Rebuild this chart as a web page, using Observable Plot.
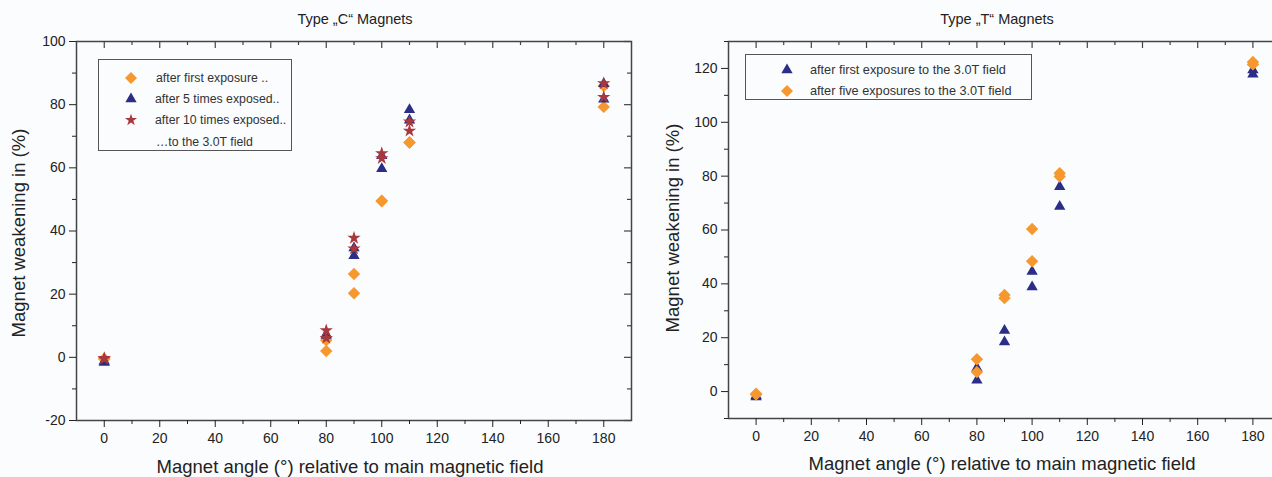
<!DOCTYPE html>
<html>
<head>
<meta charset="utf-8">
<script src="https://cdn.jsdelivr.net/npm/d3@7"></script>
<script src="https://cdn.jsdelivr.net/npm/@observablehq/plot@0.6"></script>
<style>
  html, body { margin:0; padding:0; background:#fafcfe; overflow:hidden; }
  #wrap { position:relative; width:1272px; height:477px; overflow:hidden; background:#fafcfe; font-family:"Liberation Sans", Arial, sans-serif; color:#222; }
  .abs { position:absolute; white-space:nowrap; line-height:1; }
  .title { font-size:14.5px; transform:translateX(-50%); }
  .xlab { font-size:18.5px; transform:translateX(-50%); }
  .ylab { font-size:18.5px; transform:translate(-50%,-50%) rotate(-90deg); }
  .legend { position:absolute; border:1px solid #555; background:#fafcfe; box-sizing:border-box; }
  .lrow { position:absolute; font-size:12.3px; color:#333; white-space:nowrap; line-height:1; }
  .lrow.big { font-size:12.7px; }
  .lrow svg { position:absolute; overflow:visible; }
</style>
</head>
<body>
<div id="wrap"></div>
<script>
// ---- data ----
const angles = [0, 0, 80, 80, 90, 90, 100, 100, 110, 110, 180, 180];
// Type "C" magnets
const cFirst = [-0.5, -0.5, 5.4, 2.0, 26.4, 20.3, 49.6, 49.4, 68.0, 68.0, 85.9, 79.3];
const cFive  = [-1.2, -1.6, 6.9, 7.3, 34.6, 32.2, 63.8, 59.7, 78.4, 75.1, 86.6, 81.7];
const cTen   = [-0.5, -0.3, 8.5, 6.1, 37.8, 34.4, 64.6, 63.0, 74.6, 71.7, 86.7, 82.4];
// Type "T" magnets
const tFirst = [-2.0, -1.5, 8.8, 4.2, 22.7, 18.4, 44.6, 38.8, 76.1, 68.7, 119.4, 117.8];
const tFive  = [-1.1, -0.8, 12.0, 7.3, 35.9, 34.7, 60.4, 48.4, 81.1, 79.9, 122.4, 121.5];

const xMajor = [0, 20, 40, 60, 80, 100, 120, 140, 160, 180];
const xMinor = [10, 30, 50, 70, 90, 110, 130, 150, 170];
const cYMajor = [-20, 0, 20, 40, 60, 80, 100];
const cYMinor = [-10, 10, 30, 50, 70, 90];
const tYMajor = [0, 20, 40, 60, 80, 100, 120];
const tYMinor = [-10, 10, 30, 50, 70, 90, 110, 130];

const titleC = "Type \u201eC\u201c Magnets";
const titleT = "Type \u201eT\u201c Magnets";
const xLabel = "Magnet angle (\u00b0) relative to main magnetic field";
const yLabel = "Magnet weakening in (%)";
const legendC = ["after first exposure ..", "after 5 times exposed..", "after 10 times exposed..", "\u2026to the 3.0T field"];
const legendT = ["after first exposure to the 3.0T field", "after five exposures to the 3.0T field"];

const ORANGE = "#f7982f", NAVY = "#2b2d86", RED = "#a8383c";
const FONT = "Liberation Sans, Arial, sans-serif";

const rows = (ys) => angles.map((a, i) => ({x: a, y: ys[i]}));

function chart({width, height, mL, mR, mT, mB, yDomain, yMajor, yMinor, series, rightTicks}) {
  const pw = width - mL - mR, ph = height - mT - mB;
  const marks = [
    Plot.frame({stroke: "#444", strokeWidth: 1.5}),
    Plot.axisX({ticks: xMajor, tickSize: 7, tickPadding: 6, fontSize: 14, label: null, tickFormat: d => String(d)}),
    Plot.axisX({ticks: xMinor, tickSize: 4, text: null, label: null}),
    Plot.axisY({ticks: yMajor, tickSize: 7, tickPadding: 4, fontSize: 14, label: null, tickFormat: d => String(d)}),
    Plot.axisY({ticks: yMinor, tickSize: 4, text: null, label: null}),
    Plot.tickX(xMajor, {x: d => d, insetBottom: ph - 7, stroke: "#444", strokeWidth: 1.2}),
    Plot.tickX(xMinor, {x: d => d, insetBottom: ph - 4, stroke: "#444", strokeWidth: 1.2}),
  ];
  if (rightTicks) {
    marks.push(Plot.tickY(yMajor, {y: d => d, insetLeft: pw - 7, stroke: "#444", strokeWidth: 1.2}));
    marks.push(Plot.tickY(yMinor, {y: d => d, insetLeft: pw - 4, stroke: "#444", strokeWidth: 1.2}));
  }
  for (const s of series) {
    marks.push(Plot.dot(rows(s.values), {x: "x", y: "y", symbol: s.symbol, fill: s.color, stroke: "none", r: s.r}));
  }
  return Plot.plot({
    width, height, marginLeft: mL, marginRight: mR, marginTop: mT, marginBottom: mB,
    x: {domain: [-10, 190]},
    y: {domain: yDomain},
    style: {background: "transparent", fontFamily: FONT, fontSize: "14px", color: "#222", overflow: "visible"},
    marks
  });
}

const wrap = document.getElementById("wrap");

const left = chart({
  width: 660, height: 477, mL: 76, mR: 29, mT: 41, mB: 57,
  yDomain: [-20, 100], yMajor: cYMajor, yMinor: cYMinor, rightTicks: true,
  series: [
    {values: cFirst, symbol: "diamond2", color: ORANGE, r: 5.6},
    {values: cFive, symbol: "triangle", color: NAVY, r: 4.2},
    {values: cTen, symbol: "star", color: RED, r: 4.2}
  ]
});
left.style.position = "absolute"; left.style.left = "0px"; left.style.top = "0px";
wrap.appendChild(left);

const right = chart({
  width: 640, height: 477, mL: 68, mR: 20, mT: 41, mB: 59,
  yDomain: [-10, 130], yMajor: tYMajor, yMinor: tYMinor, rightTicks: false,
  series: [
    {values: tFirst, symbol: "triangle", color: NAVY, r: 4.2},
    {values: tFive, symbol: "diamond2", color: ORANGE, r: 5.6}
  ]
});
right.style.position = "absolute"; right.style.left = "660px"; right.style.top = "0px";
wrap.appendChild(right);

function addText(cls, text, x, y) {
  const d = document.createElement("div");
  d.className = "abs " + cls;
  d.textContent = text;
  d.style.left = x + "px"; d.style.top = y + "px";
  wrap.appendChild(d);
  return d;
}
addText("title", titleC, 355, 12);
addText("title", titleT, 997, 12);
addText("xlab", xLabel, 350, 458);
addText("xlab", xLabel, 1002, 455);
addText("ylab", yLabel, 19, 233);
addText("ylab", yLabel, 673, 228);

function symbolPath(name, r) {
  const map = {diamond2: d3.symbolDiamond2, triangle: d3.symbolTriangle, star: d3.symbolStar};
  return d3.symbol(map[name], Math.PI * r * r)();
}

function legend(x, y, w, h, entries, cls) {
  const box = document.createElement("div");
  box.className = "legend";
  box.style.left = x + "px"; box.style.top = y + "px";
  box.style.width = w + "px"; box.style.height = h + "px";
  wrap.appendChild(box);
  for (const e of entries) {
    const row = document.createElement("div");
    row.className = "lrow" + (cls ? " " + cls : "");
    row.style.left = (e.tx - x) + "px";
    row.style.top = (e.ty - y - 7) + "px";
    row.textContent = e.text;
    box.appendChild(row);
    if (e.symbol) {
      const svg = d3.create("svg").attr("width", 1).attr("height", 1)
        .style("left", (e.sx - e.tx) + "px").style("top", "6px");
      svg.append("path").attr("d", symbolPath(e.symbol, e.r)).attr("fill", e.color);
      row.appendChild(svg.node());
    }
  }
}

legend(98, 59, 194, 92, [
  {text: legendC[0], tx: 155, ty: 78, sx: 130, symbol: "diamond2", color: ORANGE, r: 5.4},
  {text: legendC[1], tx: 154, ty: 99, sx: 130, symbol: "triangle", color: NAVY, r: 4.2},
  {text: legendC[2], tx: 154, ty: 120, sx: 130, symbol: "star", color: RED, r: 3.8},
  {text: legendC[3], tx: 155, ty: 142}
]);
legend(745, 54, 287, 46, [
  {text: legendT[0], tx: 809, ty: 70, sx: 786, symbol: "triangle", color: NAVY, r: 4.2},
  {text: legendT[1], tx: 809, ty: 91, sx: 786, symbol: "diamond2", color: ORANGE, r: 5.4}
], "big");
</script>
</body>
</html>
